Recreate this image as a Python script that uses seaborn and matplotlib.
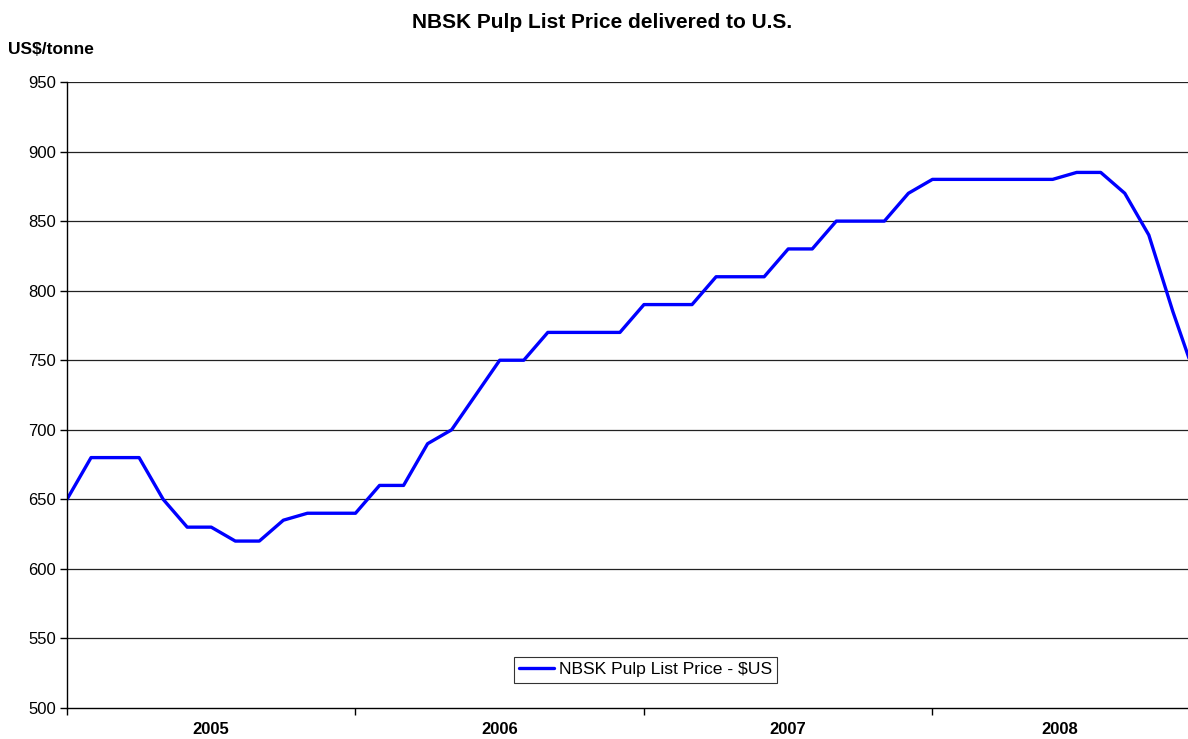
import numpy as np
import pandas as pd
import matplotlib
matplotlib.use("Agg")
import matplotlib.pyplot as plt
import seaborn as sns

# monthly NBSK list price, Jan 2005 onwards (US$/tonne)
prices = [650, 680, 680, 680, 650, 630, 630, 620, 620, 635, 640, 640,
          640, 660, 660, 690, 700, 725, 750, 750, 770, 770, 770, 770,
          790, 790, 790, 810, 810, 810, 830, 830, 850, 850, 850, 870,
          880, 880, 880, 880, 880, 880, 885, 885, 870, 840, 785, 735]
years = ["2005", "2006", "2007", "2008"]
y_ticks = [500, 550, 600, 650, 700, 750, 800, 850, 900, 950]

df = pd.DataFrame({"month": np.arange(len(prices)), "price": prices})

sns.set_style("white")
plt.rcParams["font.family"] = ["Liberation Sans", "DejaVu Sans"]
plt.rcParams["text.color"] = "black"
plt.rcParams["xtick.color"] = "black"
plt.rcParams["ytick.color"] = "black"

fig = plt.figure(figsize=(11.88, 7.39), dpi=100)
ax = fig.add_axes([67 / 1188, 31 / 739, 1121 / 1188, 626 / 739])

sns.lineplot(data=df, x="month", y="price", ax=ax, color="#0000FF",
             linewidth=2.4, label="NBSK Pulp List Price - $US")

x_right = 46.63
ax.set_xlim(0, x_right)
ax.set_ylim(500, 950)
ax.set_yticks(y_ticks)
ax.set_yticklabels([str(v) for v in y_ticks], fontsize=12)
for v in y_ticks[1:]:
    ax.axhline(v, color="#222222", linewidth=0.9, zorder=0)

# year ticks between groups, labels centred on each group
ax.set_xticks([0, 12, 24, 36])
ax.set_xticklabels([])
centres = [6, 18, 30, (36 + x_right) / 2]
ax.set_xticks(centres, minor=True)
ax.set_xticklabels(years, minor=True, fontsize=12, fontweight="bold")
ax.tick_params(axis="x", which="minor", bottom=False, length=0, pad=10)
ax.tick_params(axis="x", which="major", bottom=True, length=5, width=1,
               color="black", direction="out")
ax.tick_params(axis="y", left=True, length=5, width=1, color="black",
               direction="out", pad=3)
ax.set_xlabel("")
ax.set_ylabel("")

for s in ["top", "right"]:
    ax.spines[s].set_visible(False)
for s in ["left", "bottom"]:
    ax.spines[s].set_color("black")
    ax.spines[s].set_linewidth(1)

leg = ax.legend(loc="center", bbox_to_anchor=(0.516, 0.061), fontsize=12.6,
                frameon=True, fancybox=False, handlelength=2.0,
                handletextpad=0.25, borderpad=0.3, borderaxespad=0)
leg.get_frame().set_edgecolor("black")
leg.get_frame().set_linewidth(0.8)

fig.text(602 / 1188, 1 - 22 / 739, "NBSK Pulp List Price delivered to U.S.",
         ha="center", va="center", fontsize=15, fontweight="bold")
fig.text(8 / 1188, 1 - 50 / 739, "US$/tonne", ha="left", va="center",
         fontsize=12.5, fontweight="bold")

fig.savefig("out.png", dpi=100)
